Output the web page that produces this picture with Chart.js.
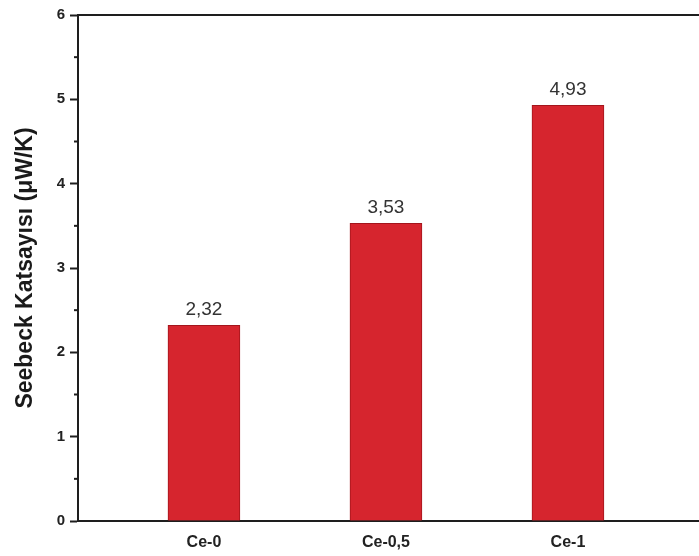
<!DOCTYPE html>
<html>
<head>
<meta charset="utf-8">
<script src="https://cdn.jsdelivr.net/npm/chart.js@4.4.1/dist/chart.umd.min.js"></script>
<style>
  html, body { margin: 0; padding: 0; background: #fff; }
  #wrap { width: 699px; height: 556px; }
</style>
</head>
<body>
<div id="wrap"><canvas id="chart" width="699" height="556"></canvas></div>
<script>
const categories = ['Ce-0', 'Ce-0,5', 'Ce-1'];
const seebeck = [2.32, 3.53, 4.93];
const valueLabels = ['2,32', '3,53', '4,93'];
const yTicks = [0, 1, 2, 3, 4, 5, 6];

const axisColor = '#1e1e1e';
const textFont = 'Liberation Sans, Arial, sans-serif';

// value labels over the bars + minor ticks on the y axis
const extrasPlugin = {
  id: 'extras',
  afterDatasetsDraw(chart) {
    const ctx = chart.ctx;
    const meta = chart.getDatasetMeta(0);
    ctx.save();
    ctx.fillStyle = '#333';
    ctx.font = '19px ' + textFont;
    ctx.textAlign = 'center';
    ctx.textBaseline = 'alphabetic';
    meta.data.forEach((bar, i) => {
      ctx.fillText(valueLabels[i], bar.x, bar.y - 10);
    });
    // minor ticks
    const y = chart.scales.y;
    ctx.strokeStyle = axisColor;
    ctx.lineWidth = 2;
    for (let v = 0.5; v < 6; v += 1) {
      const py = y.getPixelForValue(v);
      ctx.beginPath();
      ctx.moveTo(y.right - 4, py);
      ctx.lineTo(y.right, py);
      ctx.stroke();
    }
    ctx.restore();
  }
};

new Chart(document.getElementById('chart'), {
  type: 'bar',
  data: {
    datasets: [{
      data: categories.map((c, i) => ({ x: i + 1, y: seebeck[i] })),
      backgroundColor: '#d6252e',
      borderColor: '#a3151c',
      borderWidth: 1,
      barThickness: 72
    }]
  },
  options: {
    responsive: false,
    animation: false,
    events: [],
    layout: { padding: { left: 0, right: 0, top: 0, bottom: 0 } },
    plugins: { legend: { display: false }, tooltip: { enabled: false } },
    scales: {
      x: {
        type: 'linear',
        offset: false,
        min: 0.308,
        max: 3.72,
        afterBuildTicks: (s) => { s.ticks = categories.map((c, i) => ({ value: i + 1 })); },
        afterFit: (s) => { s.height = 35; },
        ticks: {
          callback: (v) => categories[v - 1] || '',
          color: '#222',
          font: { family: textFont, size: 16, weight: 'bold' },
          padding: 12,
          maxRotation: 0
        },
        grid: { display: true, drawOnChartArea: false, drawTicks: false },
        border: { color: axisColor, width: 2 }
      },
      x2: {
        type: 'linear',
        position: 'top',
        offset: false,
        min: 0.308,
        max: 3.72,
        afterFit: (s) => { s.height = 15; },
        ticks: { display: false },
        grid: { display: true, drawOnChartArea: false, drawTicks: false },
        border: { color: axisColor, width: 2 }
      },
      y: {
        min: 0,
        max: 6,
        afterBuildTicks: (s) => { s.ticks = yTicks.map(v => ({ value: v })); },
        afterFit: (s) => { s.width = 78; },
        ticks: {
          color: '#222',
          font: { family: textFont, size: 15, weight: 'bold' },
          padding: 5
        },
        grid: { display: true, drawOnChartArea: false, tickLength: 8, tickWidth: 2, tickColor: axisColor },
        border: { color: axisColor, width: 2 },
        title: {
          display: true,
          text: 'Seebeck Katsayısı (μW/K)',
          color: '#1a1a1a',
          font: { family: textFont, size: 23, weight: 'bold' },
          padding: { top: 12, bottom: 4 }
        }
      }
    }
  },
  plugins: [extrasPlugin]
});
</script>
</body>
</html>
